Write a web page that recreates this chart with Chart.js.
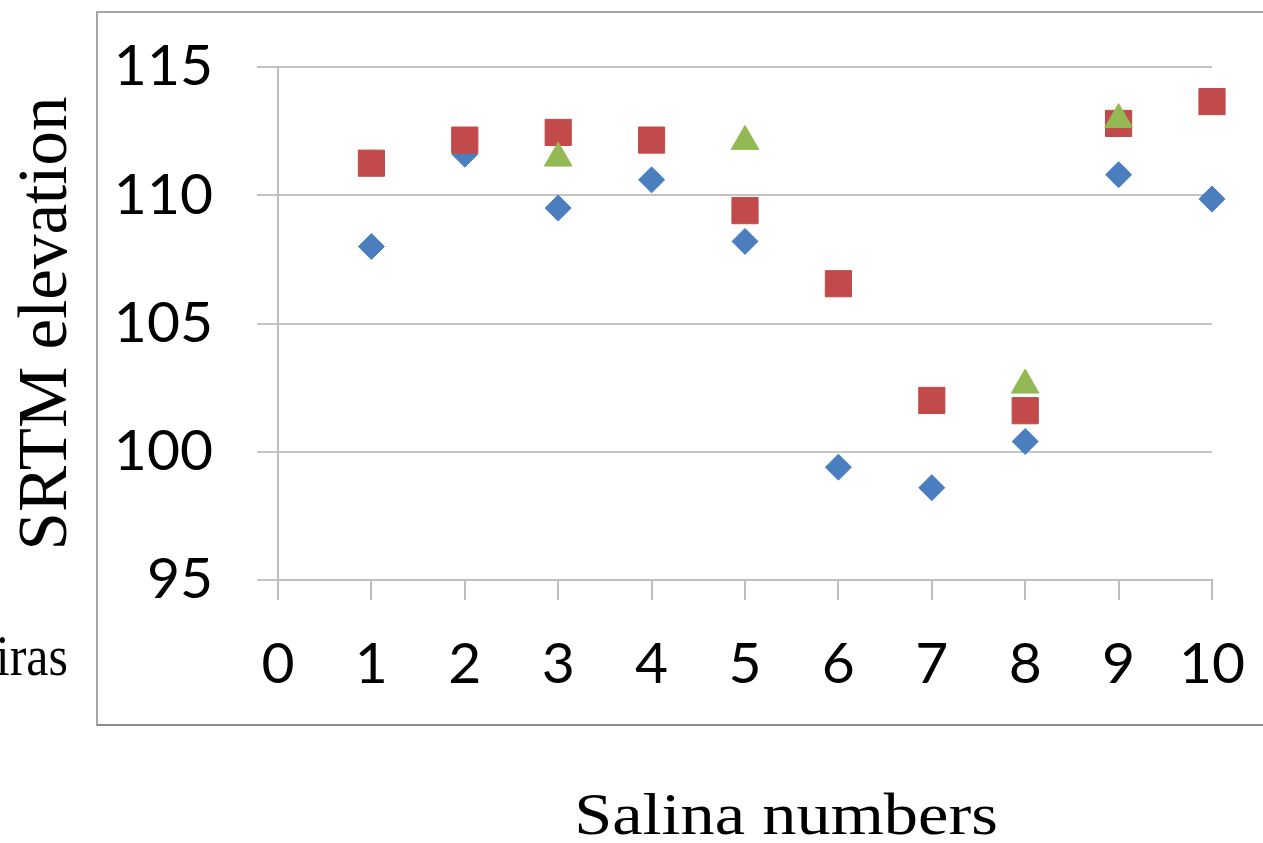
<!DOCTYPE html>
<html>
<head>
<meta charset="utf-8">
<script src="https://cdn.jsdelivr.net/npm/chart.js@4/dist/chart.umd.min.js"></script>
<style>
  body { margin: 0; background: #fff; }
  #frame { position: absolute; left: 96px; top: 11px; width: 1300px; height: 711px;
           border: 2px solid #a6a6a6; border-right: none; border-bottom-color: #8c8c8c; }
  canvas { position: absolute; left: 0; top: 0; }
</style>
</head>
<body>
<div id="frame"></div>
<canvas id="elevChart" width="1263" height="843"></canvas>
<script>
const salinas = [1, 2, 3, 4, 5, 6, 7, 8, 9, 10];
const blueSeries = [108.0, 111.6, 109.5, 110.6, 108.2, 99.4, 98.6, 100.4, 110.8, 109.85];
const redSeries = [111.25, 112.15, 112.45, 112.15, 109.4, 106.55, 102.0, 101.6, 112.8, 113.65];
const greenSeries = [null, null, 111.45, null, 112.1, null, null, 102.6, 112.95, null];
const yTicks = [95, 100, 105, 110, 115];

const toPoints = arr => salinas.map((s, i) => ({ x: s, y: arr[i] })).filter(p => p.y !== null);

// serif captions that sit outside the plot (x title is wider than Times, so stretch it)
const sideText = {
  id: 'sideText',
  afterDraw(chart) {
    const ctx = chart.ctx;
    ctx.save();
    ctx.fillStyle = '#000';
    ctx.textBaseline = 'alphabetic';
    ctx.font = '50px "Liberation Serif"';
    ctx.textAlign = 'right';
    ctx.translate(68, 675);
    ctx.scale(1, 1.12);
    ctx.fillText('iras', 0, 0);
    ctx.restore();

    ctx.save();
    ctx.fillStyle = '#000';
    ctx.font = '60px "Liberation Serif"';
    ctx.textAlign = 'center';
    ctx.translate(786, 834);
    ctx.scale(1.14, 1);
    ctx.fillText('Salina numbers', 0, 0);
    ctx.restore();
  }
};

const ctx = document.getElementById('elevChart').getContext('2d');
const elevChart = new Chart(ctx, {
  type: 'scatter',
  data: {
    datasets: [
      {
        label: 'Series 1',
        data: toPoints(blueSeries),
        pointStyle: 'rectRot',
        pointRadius: 13,
        backgroundColor: '#4a7ebf',
        borderColor: '#4a7ebf',
        borderWidth: 1,
        clip: false,
        order: 3
      },
      {
        label: 'Series 2',
        data: toPoints(redSeries),
        pointStyle: 'rect',
        pointRadius: 18.5,
        backgroundColor: '#c34a4a',
        borderColor: '#c34a4a',
        borderWidth: 1,
        clip: false,
        order: 2
      },
      {
        label: 'Series 3',
        data: toPoints(greenSeries),
        pointStyle: 'triangle',
        pointRadius: 16,
        backgroundColor: '#93b955',
        borderColor: '#93b955',
        borderWidth: 1,
        clip: false,
        order: 1
      }
    ]
  },
  options: {
    responsive: false,
    animation: false,
    layout: { padding: { left: 0, top: 67, right: 51, bottom: 0 } },
    plugins: {
      legend: { display: false },
      tooltip: { enabled: false }
    },
    scales: {
      x: {
        type: 'linear',
        min: 0,
        max: 10,
        afterFit: s => { s.height = 263; s.paddingLeft = 0; s.paddingRight = 0; },
        ticks: {
          stepSize: 1,
          padding: 30,
          color: '#000',
          font: { family: 'Lato', size: 57 }
        },
        grid: { drawOnChartArea: false, tickLength: 20, color: '#bdbdbd', lineWidth: 2 },
        border: { color: '#bdbdbd', width: 2 }
      },
      y: {
        min: 95,
        max: 115,
        afterFit: s => { s.width = 278; s.paddingTop = 0; s.paddingBottom = 0; },
        afterBuildTicks: s => { s.ticks = yTicks.map(v => ({ value: v })); },
        ticks: {
          padding: 44,
          color: '#000',
          font: { family: 'Lato', size: 57 }
        },
        grid: { tickLength: 21, color: '#c4c4c4', lineWidth: 2 },
        border: { color: '#bdbdbd', width: 2 },
        title: {
          display: true,
          text: 'SRTM elevation',
          color: '#000',
          font: { family: 'Liberation Serif', size: 69, lineHeight: 1 },
          padding: { top: 13, bottom: 0 }
        }
      }
    }
  },
  plugins: [sideText]
});
</script>
</body>
</html>
